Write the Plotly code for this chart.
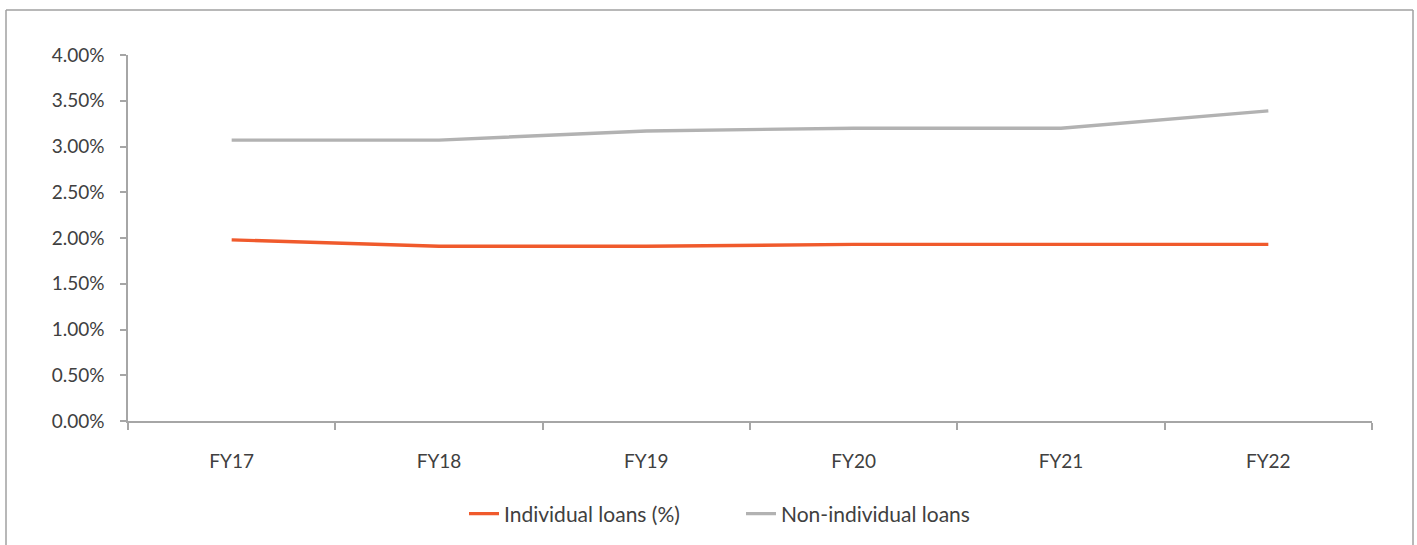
import plotly.graph_objects as go

categories = ["FY17", "FY18", "FY19", "FY20", "FY21", "FY22"]
individual = [0.0198, 0.0191, 0.0191, 0.0193, 0.0193, 0.0193]
non_individual = [0.0307, 0.0307, 0.0317, 0.0320, 0.0320, 0.0339]

FONT = "Lato"
TXT = "#404040"
AX = "#A6A6A6"

fig = go.Figure()
fig.add_trace(go.Scatter(x=categories, y=individual, mode="lines",
                         name="Individual loans (%)",
                         line=dict(color="#F05A2C", width=3.4)))
fig.add_trace(go.Scatter(x=categories, y=non_individual, mode="lines",
                         name="Non-individual loans",
                         line=dict(color="#B2B2B2", width=3.4)))

W, H = 1417, 545
ml, mr, mt, mb = 128, 45, 55, 123
pw, ph = W - ml - mr, H - mt - mb

def px(x):
    return (x - ml) / pw

def py(y):
    return (H - mb - y) / ph

frame = dict(type="line", xref="paper", yref="paper", line=dict(color="#A0A0A0", width=1.5))
fig.add_shape(**frame, x0=px(6), x1=px(6), y0=py(10), y1=py(560))
fig.add_shape(**frame, x0=px(6), x1=px(1413), y0=py(10), y1=py(10))
fig.add_shape(**frame, x0=px(1413), x1=px(1413), y0=py(10), y1=py(560))

fig.update_layout(
    width=W, height=H,
    margin=dict(l=ml, r=mr, t=mt, b=mb),
    paper_bgcolor="white", plot_bgcolor="white",
    font=dict(family=FONT, size=19, color=TXT),
    showlegend=True,
    legend=dict(orientation="h", x=px(741), xanchor="center", y=py(514), yanchor="middle",
                font=dict(size=21, color=TXT), entrywidth=232, entrywidthmode="pixels",
                tracegroupgap=0),
)
fig.update_xaxes(
    type="category", range=[-0.5, 5.5], showline=True, linecolor=AX, linewidth=1.5,
    ticks="outside", ticklen=7, tickcolor=AX, tickwidth=1.5, tickson="boundaries",
    showgrid=False, zeroline=False, ticklabelstandoff=22,
)
fig.update_yaxes(
    range=[0, 0.04], dtick=0.005, tickformat=".2%", showline=True, linecolor=AX, linewidth=1.5,
    ticks="outside", ticklen=6, tickcolor=AX, tickwidth=1.5,
    showgrid=False, zeroline=False, ticklabelstandoff=12,
)

fig.write_html("out.html")
